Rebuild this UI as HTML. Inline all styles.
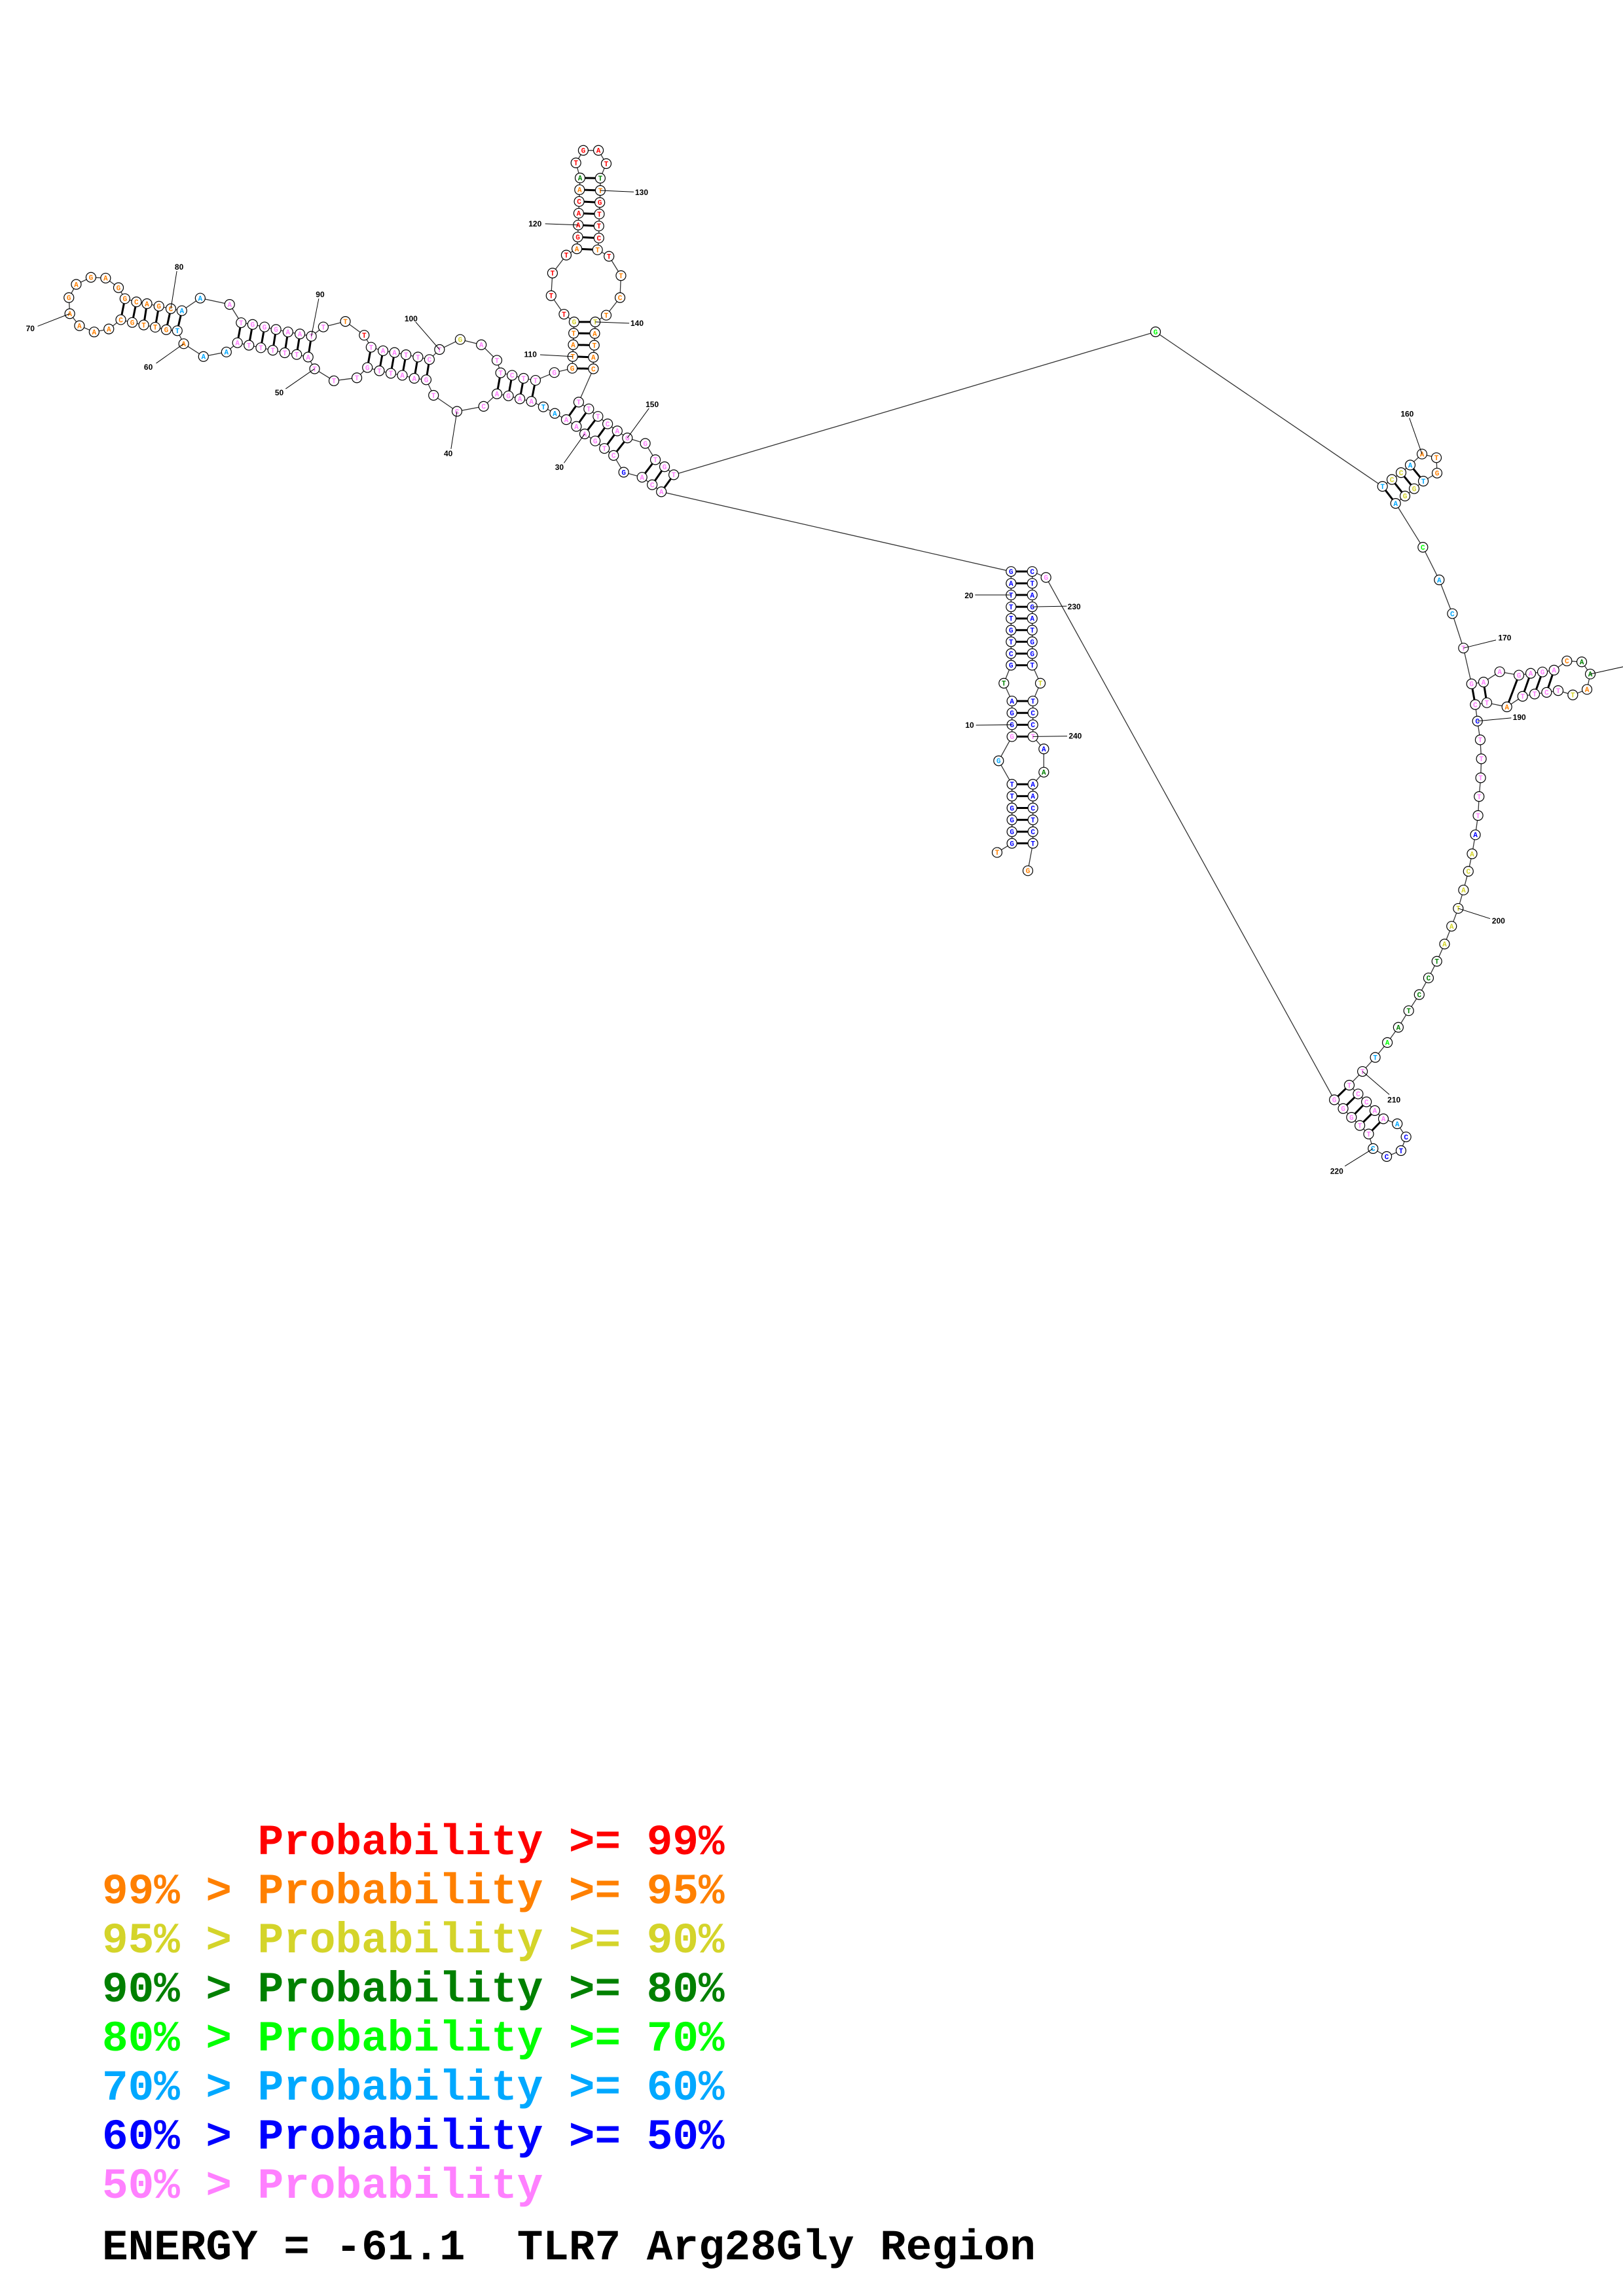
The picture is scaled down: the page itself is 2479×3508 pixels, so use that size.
<!DOCTYPE html>
<html><head><meta charset="utf-8">
<style>
html,body{margin:0;padding:0;background:#fff;}
body{width:2479px;height:3508px;position:relative;overflow:hidden;}
svg{position:absolute;left:0;top:0;}
.lg{font-family:"Liberation Mono",monospace;font-weight:bold;font-size:66px;white-space:pre;}
</style></head>
<body>
<svg id="s" width="2479" height="3508" viewBox="0 0 2479 3508" xmlns="http://www.w3.org/2000/svg">
<g id="bb"></g><g id="pp"></g><g id="nn"></g><g id="ll"></g>
<text class="lg" x="156" y="2833" fill="#ff0000" xml:space="preserve">      Probability &gt;= 99%</text>
<text class="lg" x="156" y="2908" fill="#ff8000" xml:space="preserve">99% &gt; Probability &gt;= 95%</text>
<text class="lg" x="156" y="2983" fill="#d4d42a" xml:space="preserve">95% &gt; Probability &gt;= 90%</text>
<text class="lg" x="156" y="3058" fill="#008000" xml:space="preserve">90% &gt; Probability &gt;= 80%</text>
<text class="lg" x="156" y="3133" fill="#00ff00" xml:space="preserve">80% &gt; Probability &gt;= 70%</text>
<text class="lg" x="156" y="3208" fill="#00a8ff" xml:space="preserve">70% &gt; Probability &gt;= 60%</text>
<text class="lg" x="156" y="3283" fill="#0000ff" xml:space="preserve">60% &gt; Probability &gt;= 50%</text>
<text class="lg" x="156" y="3358" fill="#ff80ff" xml:space="preserve">50% &gt; Probability</text>
<text class="lg" x="156" y="3452" fill="#000" xml:space="preserve">ENERGY = -61.1  TLR7 Arg28Gly Region</text>
</svg>
<script>
var F={1:[0,180,1.4255,2.613],2:[1400,800,3,2.87],3:[2050,600,3,2.85],4:[1950,1100,2.975,2.24],0:[0,0,1,1]};
function cv(f,x,y){var a=F[f];return [a[0]+x/a[2],a[1]+y/a[3]];}
var C={r:"#ff0000",o:"#ff8000",y:"#d4d42a",g:"#008000",G:"#00ff00",b:"#00a8ff",B:"#0000ff",p:"#ff80ff"};
var D="2 T o 369 1442|2 G B 437 1402|2 G B 437 1351|2 G B 437 1299|2 G B 437 1247|2 T B 437 1195|2 T B 437 1143|2 G b 376 1040|2 G p 437 934|2 G B 437 882|2 G B 437 830|2 A B 437 778|2 T g 400 700|2 G B 433 621|2 C B 433 570|2 T B 433 518|2 G B 433 467|2 T B 433 416|2 T B 433 365|2 T B 433 313|2 A B 433 262|2 G B 433 210|"+
"1 A p 1440 1493|1 C p 1420 1465|1 A p 1398 1435|1 G B 1358 1415|1 C p 1336 1348|1 T p 1316 1320|1 G p 1296 1290|1 A p 1273 1262|1 A p 1255 1232|1 A p 1233 1205|1 A b 1208 1180|1 T b 1183 1154|1 A p 1157 1132|1 A p 1132 1122|1 G p 1107 1110|1 A p 1082 1102|1 C p 1053 1152|1 C p 995 1172|1 T p 944 1108|1 G p 928 1046|1 A p 902 1040|1 A p 876 1028|1 T p 851 1020|1 T p 826 1010|1 G p 800 997|1 T p 777 1038|1 T p 727 1050|1 T p 685 1002|1 A p 671 955|1 T p 646 945|1 T p 620 938|1 T p 594 928|1 T p 568 918|1 T p 542 908|1 A p 517 898|1 A b 493 935|1 A b 443 953|1 A o 400 902|1 T b 386 850|1 G o 362 846|1 T o 338 836|1 T o 313 827|1 G o 288 817|1 C o 263 806|1 A o 237 843|1 A o 205 855|1 A o 173 830|1 A o 152 782|1 G o 150 718|1 A o 166 665|1 G o 198 637|1 A o 230 640|1 G o 258 678|1 G o 272 722|1 C o 297 735|1 A o 320 742|1 G o 346 752|1 C o 372 762|1 A b 396 770|1 A b 436 720|1 A p 500 745|1 T p 525 818|1 G p 550 825|1 G p 576 835|1 G p 601 845|1 A p 627 855|1 A p 653 863|1 T p 678 872|1 T p 704 835|1 T o 752 813|1 T r 793 868|1 T p 808 916|1 A p 834 930|1 A p 859 937|1 T p 884 946|1 T p 910 955|1 C p 935 965|1 T p 957 925|1 G y 1002 885|1 A p 1048 906|1 T p 1082 968|1 T p 1090 1018|1 C p 1115 1028|1 T p 1140 1040|1 T p 1166 1048|1 G p 1207 1017|1 G o 1246 1000|1 T o 1247 953|1 A o 1248 906|1 T o 1249 860|1 G y 1250 815|1 T r 1228 784|1 T r 1200 710|1 T r 1203 620|1 T r 1233 548|1 A o 1256 523|1 G r 1258 476|1 A r 1259 428|1 A r 1260 381|1 C r 1261 334|1 A o 1262 287|1 A g 1263 240|1 T r 1254 180|1 G r 1270 130|1 A r 1303 130|1 T r 1320 183|1 T g 1307 241|1 T o 1307 290|1 G r 1306 338|1 T r 1305 384|1 T r 1304 432|1 C r 1304 480|1 T o 1301 527|1 T r 1326 553|1 T o 1352 630|1 C o 1350 718|1 T o 1320 788|1 T y 1296 815|1 A o 1295 861|1 T o 1294 908|1 A o 1292 956|1 C o 1292 1002|1 T p 1260 1135|1 T p 1282 1162|1 T p 1302 1192|1 C p 1323 1222|1 A p 1344 1250|1 G p 1366 1278|1 G p 1405 1300|1 T p 1427 1365|1 G p 1447 1393|1 T p 1467 1425|"+
"0 G G 1765 507|"+
"3 T b 185 408|3 C y 228 378|3 C y 270 348|3 A b 312 315|3 A o 366 267|3 T o 432 283|3 G o 435 350|3 T b 372 385|3 G y 330 418|3 G y 288 450|3 A b 245 482|3 C G 370 673|3 A b 445 815|3 C b 505 962|3 T p 556 1112|3 G p 593 1268|3 A p 648 1260|3 A p 722 1215|3 G p 810 1230|3 A p 864 1222|3 G p 918 1216|3 A p 971 1208|3 C o 1030 1168|3 A g 1098 1172|3 A g 1137 1225|3 A o 1122 1292|3 T y 1057 1316|3 T p 990 1297|3 C p 937 1305|3 T p 882 1312|3 T p 827 1322|3 A o 755 1368|3 T p 663 1350|3 C p 610 1358|3 C B 620 1430|"+
"4 T p 925 68|4 T p 930 133|4 T p 927 198|4 T p 920 262|4 T p 915 327|4 A B 903 393|4 A y 888 458|4 C y 871 518|4 A y 849 582|4 T y 825 645|4 A y 795 706|4 A y 763 767|4 T g 728 826|4 C g 690 883|4 C g 648 940|4 T g 600 995|4 A g 553 1052|4 A G 503 1104|4 T b 448 1155|4 T p 390 1203|4 T p 330 1250|4 C p 370 1280|4 C p 408 1307|4 A p 446 1337|4 A p 485 1365|4 A b 548 1382|4 C B 588 1427|4 T B 565 1474|4 C B 500 1494|4 C b 438 1467|4 T p 418 1417|4 T p 378 1388|4 G p 340 1360|4 G p 302 1330|4 G p 262 1300|"+
"2 G p 593 236|2 C B 530 210|2 T B 530 262|2 A B 530 313|2 G B 530 365|2 A B 530 416|2 T B 530 467|2 G B 530 518|2 G B 530 570|2 T B 530 621|2 T y 567 700|2 T B 533 778|2 C B 533 830|2 C B 533 882|2 T p 533 934|2 A B 583 988|2 A g 583 1090|2 A B 533 1143|2 A B 533 1195|2 C B 533 1247|2 T B 533 1299|2 C B 533 1351|2 T B 533 1402|2 G o 510 1522";
var N=[null];D.split("|").forEach(function(s){var a=s.split(" ");var p=cv(+a[0],+a[3],+a[4]);N.push({x:p[0],y:p[1],l:a[1],c:C[a[2]]});});
var P=[[22,227],[21,228],[20,229],[19,230],[18,231],[17,232],[16,233],[15,234],[14,235],[12,237],[11,238],[10,239],[9,240],[7,243],[6,244],[5,245],[4,246],[3,247],[2,248],
[23,154],[24,153],[25,152],[27,150],[28,149],[29,148],[30,147],[31,146],[32,145],[35,107],[36,106],[37,105],[38,104],
[42,99],[43,98],[44,97],[45,96],[46,95],[47,94],[51,90],[52,89],[53,88],[54,87],[55,86],[56,85],[57,84],
[61,81],[62,80],[63,79],[64,78],[65,77],[66,76],[109,144],[110,143],[111,142],[112,141],[113,140],
[118,135],[119,134],[120,133],[121,132],[122,131],[123,130],[124,129],[156,166],[157,165],[158,164],[159,163],
[171,189],[172,188],[174,187],[175,186],[176,185],[177,184],[211,225],[212,224],[213,223],[214,222],[215,221]];
var L=[[20,"20",2,240,316,268,313],[230,"230",2,722,364,688,362],[10,"10",2,243,884,272,884],[240,"240",2,727,932,690,932],
[130,"130",1,1397,298,1380,296],[120,"120",1,1165,423,1187,423],[80,"80",1,390,596,385,612],[70,"70",1,66,842,82,832],[60,"60",1,323,995,340,980],
[90,"90",1,697,706,694,722],[50,"50",1,608,1097,622,1082],[100,"100",1,895,802,905,815],[40,"40",1,976,1340,982,1322],[110,"110",1,1155,945,1176,946],
[140,"140",1,1387,820,1370,820],[30,"30",1,1218,1395,1228,1378],[150,"150",1,1420,1145,1413,1160],
[160,"160",3,298,93,308,110],[170,"170",3,745,1067,705,1077],[190,"190",3,812,1413,775,1416],[180,"",3,1400,1170,1400,1170],
[200,"200",4,1008,688,970,680],[210,"210",4,533,1300,512,1282],[220,"220",4,273,1545,310,1527]];
var ns="http://www.w3.org/2000/svg";
function el(g,t,a,txt){var e=document.createElementNS(ns,t);for(var k in a)e.setAttribute(k,a[k]);if(txt!==undefined)e.textContent=txt;document.getElementById(g).appendChild(e);}
var d="M"+N[1].x+" "+N[1].y;for(var i=2;i<N.length;i++)d+=" L"+N[i].x.toFixed(1)+" "+N[i].y.toFixed(1);
el("bb","path",{d:d,fill:"none",stroke:"#333","stroke-width":1.3});
P.forEach(function(p){var a=N[p[0]],b=N[p[1]];el("pp","line",{x1:a.x,y1:a.y,x2:b.x,y2:b.y,stroke:"#000","stroke-width":3});});
for(var i=1;i<N.length;i++){var n=N[i];el("nn","circle",{cx:n.x,cy:n.y,r:7.5,fill:"#fff",stroke:"#000","stroke-width":1.2});
el("nn","text",{x:n.x,y:n.y+3.8,"text-anchor":"middle","font-family":"Liberation Mono, monospace","font-weight":"bold","font-size":11,fill:n.c},n.l);}
L.forEach(function(l){var n=N[l[0]];var t=cv(l[2],l[3],l[4]);var e=cv(l[2],l[5],l[6]);
el("ll","line",{x1:n.x,y1:n.y,x2:e[0],y2:e[1],stroke:"#000","stroke-width":1});
if(l[1])el("ll","text",{x:t[0],y:t[1]+4,"text-anchor":"middle","font-family":"Liberation Sans, sans-serif","font-weight":"bold","font-size":12,fill:"#000"},l[1]);});
</script>
</body></html>
